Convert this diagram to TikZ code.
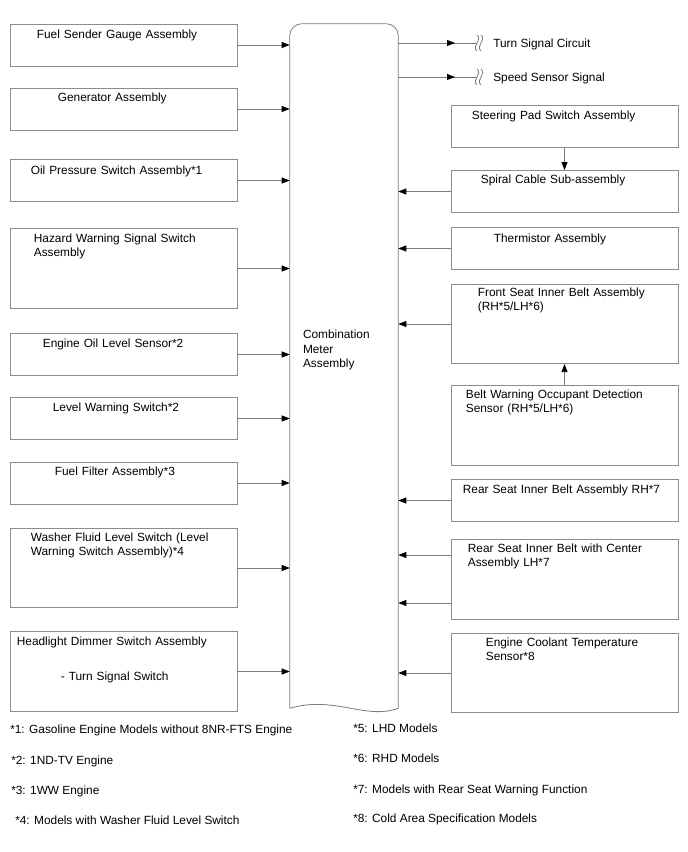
\documentclass[tikz,border=0pt]{standalone}
\usepackage{fontspec}
\setmainfont{Liberation Sans}
\usetikzlibrary{arrows.meta, calc}
\definecolor{frame}{HTML}{8C8C8C}
\definecolor{wirec}{HTML}{7A7A7A}
\definecolor{ink}{HTML}{000000}
\newcommand{\fs}{\fontsize{8.9}{10.2}\selectfont}
\newcommand{\brk}[1]{% break mark on a signal line
  \draw[wire] ($(#1)+(0,-8)$) .. controls +(6,5) and +(-6,-5) .. ($(#1)+(0,8)$);
  \draw[wire] ($(#1)+(4,-8)$) .. controls +(6,5) and +(-6,-5) .. ($(#1)+(4,8)$);}
\tikzset{
  part/.style={rectangle, draw=frame, line width=0.6pt, minimum width=170.25pt,
               minimum height=31.5pt, inner sep=0pt},
  tallpart/.style={part, minimum height=59.5pt},
  note/.style={anchor=base west, inner sep=0pt, font=\fs, text=ink},
  lbl/.style={note, align=left, text width=168pt},
  arrow/.style={-{Triangle[length=6pt, width=4.5pt, color=black]}, draw=wirec,
                line width=0.6pt},
  wire/.style={draw=wirec, line width=0.6pt},
}

\begin{document}
\begin{tikzpicture}[x=0.75pt, y=-0.75pt]
  \path[use as bounding box] (0,0) rectangle (688,852);

  % combination meter
  \node[rectangle, minimum width=81pt, minimum height=513pt, inner sep=0pt,
        label={[lbl, font=\fontsize{8.9}{10.9}\selectfont, shift={(13,315)}]north west:{Combination\\Meter\\Assembly}}]
        (meter) at (344,366) {};
  \draw[wire, rounded corners=9pt] (meter.south west) -- (meter.north west)
    -- (meter.north east) -- (meter.south east);
  \draw[wire] (meter.south east) .. controls +(-33,12) and +(45,-13) .. (meter.south west);

  % inputs on the left
  \node[part, label={[lbl, shift={(27,15)}]north west:{Fuel Sender Gauge Assembly}}] (b1) at (123.5,45) {};
  \node[part, label={[lbl, shift={(48,14)}]north west:{Generator Assembly}}] (b2) at (123.5,109) {};
  \node[part, label={[lbl, shift={(21,15)}]north west:{Oil Pressure Switch Assembly*1}}] (b3) at (123.5,180.5) {};
  \node[tallpart, label={[lbl, shift={(24,14)}]north west:{Hazard Warning Signal Switch\\Assembly}}] (b4) at (123.5,268.5) {};
  \node[part, label={[lbl, shift={(33,14)}]north west:{Engine Oil Level Sensor*2}}] (b5) at (123.5,354.5) {};
  \node[part, label={[lbl, shift={(43,14)}]north west:{Level Warning Switch*2}}] (b6) at (123.5,418.5) {};
  \node[part, label={[lbl, shift={(45,13.5)}]north west:{Fuel Filter Assembly*3}}] (b7) at (123.5,483) {};
  \node[tallpart, label={[lbl, shift={(21,14)}]north west:{Washer Fluid Level Switch (Level\\Warning Switch Assembly)*4}}] (b8) at (123.5,568) {};
  \node[tallpart, label={[lbl, shift={(7,14)}]north west:{Headlight Dimmer Switch Assembly}},
        label={[lbl, shift={(51,49)}]north west:{- Turn Signal Switch}}] (b9) at (123.5,671.5) {};

  \foreach \b in {b1,b2,b3,b4,b5,b6,b7,b8,b9}
    \draw[arrow] (\b.east) -- (\b.east -| meter.west);

  % outputs
  \coordinate (tsbrk) at (477,43);
  \coordinate (ssbrk) at (477,77);
  \node[note] (ts) at (493,47.5) {Turn Signal Circuit};
  \node[note] (ss) at (493,81.5) {Speed Sensor Signal};
  \draw[wire] (meter.east |- tsbrk) -- (tsbrk);
  \draw[arrow] (meter.east |- tsbrk) -- ($(tsbrk)+(-22,0)$);
  \draw[wire] (meter.east |- ssbrk) -- (ssbrk);
  \draw[arrow] (meter.east |- ssbrk) -- ($(ssbrk)+(-22,0)$);
  \brk{tsbrk}
  \brk{ssbrk}

  % inputs on the right
  \node[part, label={[lbl, shift={(21,14)}]north west:{Steering Pad Switch Assembly}}] (r1) at (564.5,126.5) {};
  \node[part, label={[lbl, shift={(30,13)}]north west:{Spiral Cable Sub-assembly}}] (r2) at (564.5,191.5) {};
  \node[part, label={[lbl, shift={(43,15)}]north west:{Thermistor Assembly}}] (r3) at (564.5,248.5) {};
  \node[tallpart, label={[lbl, shift={(27,13)}]north west:{Front Seat Inner Belt Assembly\\(RH*5/LH*6)}}] (r4) at (564.5,324) {};
  \node[tallpart, label={[lbl, shift={(15,13)}]north west:{Belt Warning Occupant Detection\\Sensor (RH*5/LH*6)}}] (r5) at (564.5,425.5) {};
  \node[part, label={[lbl, shift={(12,14)}]north west:{Rear Seat Inner Belt Assembly RH*7}}] (r6) at (564.5,500.5) {};
  \node[tallpart, label={[lbl, shift={(17,13)}]north west:{Rear Seat Inner Belt with Center\\Assembly LH*7}}] (r7) at (564.5,579.5) {};
  \node[tallpart, label={[lbl, shift={(35,14)}]north west:{Engine Coolant Temperature\\Sensor*8}}] (r8) at (564.5,673) {};

  \draw[arrow] (r1.south) -- (r2.north);
  \draw[arrow] (r5.north) -- (r4.south);
  \foreach \r in {r2,r3,r4,r6,r8}
    \draw[arrow] (\r.west) -- (\r.west -| meter.east);
  \draw[arrow] ($(r7.west)+(0,-24.5)$) -- ($(r7.west -| meter.east)+(0,-24.5)$);
  \draw[arrow] ($(r7.west)+(0,23.5)$) -- ($(r7.west -| meter.east)+(0,23.5)$);

  % notes
  \node[note] (n1) at (10,733) {*1: Gasoline Engine Models without 8NR-FTS Engine};
  \node[note] (n2) at (11,764) {*2: 1ND-TV Engine};
  \node[note] (n3) at (11,794) {*3: 1WW Engine};
  \node[note] (n4) at (15,824) {*4: Models with Washer Fluid Level Switch};
  \node[note] (n5) at (353,732) {*5: LHD Models};
  \node[note] (n6) at (353,762) {*6: RHD Models};
  \node[note] (n7) at (353,793) {*7: Models with Rear Seat Warning Function};
  \node[note] (n8) at (353,822) {*8: Cold Area Specification Models};
\end{tikzpicture}
\end{document}
